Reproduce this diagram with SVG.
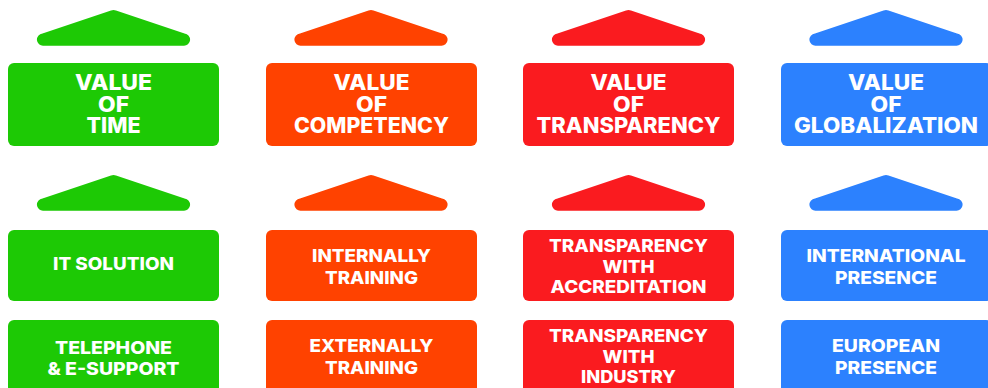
<svg xmlns="http://www.w3.org/2000/svg" width="988" height="388" viewBox="0 0 988 388">
<defs>
<style>
.t{font-family:Inter,"Liberation Sans",sans-serif;font-weight:800;fill:#fff;text-anchor:middle}
.h{font-size:21px}
.s{font-size:17.5px}
.g{fill:#1DC905}.o{fill:#FF4200}.r{fill:#FA1B1F}.b{fill:#2C81FE}
</style>
</defs>
<rect width="988" height="388" fill="#fff"/>
<g id="col1" class="g">
<g id="roof1a"><path transform="translate(113.5,0)" d="M-71 33.5 L-2.5 10.4 Q0 9.6 2.5 10.4 L71 33.5 A6 6 0 0 1 70 45.7 L-70 45.7 A6 6 0 0 1 -71 33.5 Z"/></g>
<g id="n-value-time"><rect x="8" y="63" width="211" height="83" rx="6"/>
<text class="t h" x="113.5" y="90" textLength="77" lengthAdjust="spacingAndGlyphs">VALUE</text><text class="t h" x="113.5" y="111.5" textLength="31" lengthAdjust="spacingAndGlyphs">OF</text><text class="t h" x="113.5" y="133" textLength="54" lengthAdjust="spacingAndGlyphs">TIME</text></g>
<g id="roof1b"><path transform="translate(113.5,165)" d="M-71 33.5 L-2.5 10.4 Q0 9.6 2.5 10.4 L71 33.5 A6 6 0 0 1 70 45.7 L-70 45.7 A6 6 0 0 1 -71 33.5 Z"/></g>
<g id="n-it"><rect x="8" y="230" width="211" height="71" rx="6"/>
<text class="t s" x="113.5" y="270" textLength="121" lengthAdjust="spacingAndGlyphs">IT SOLUTION</text></g>
<g id="n-tel"><rect x="8" y="320" width="211" height="80" rx="6"/>
<text class="t s" x="113.5" y="353.5" textLength="117" lengthAdjust="spacingAndGlyphs">TELEPHONE</text><text class="t s" x="113.5" y="374.5" textLength="132" lengthAdjust="spacingAndGlyphs">&amp; E-SUPPORT</text></g>
</g>
<g id="col2" class="o">
<g id="roof2a"><path transform="translate(371,0)" d="M-71 33.5 L-2.5 10.4 Q0 9.6 2.5 10.4 L71 33.5 A6 6 0 0 1 70 45.7 L-70 45.7 A6 6 0 0 1 -71 33.5 Z"/></g>
<g id="n-value-comp"><rect x="266" y="63" width="211" height="83" rx="6"/>
<text class="t h" x="371.5" y="90" textLength="76" lengthAdjust="spacingAndGlyphs">VALUE</text><text class="t h" x="371.5" y="111.5" textLength="31" lengthAdjust="spacingAndGlyphs">OF</text><text class="t h" x="371.5" y="133" textLength="155" lengthAdjust="spacingAndGlyphs">COMPETENCY</text></g>
<g id="roof2b"><path transform="translate(371,165)" d="M-71 33.5 L-2.5 10.4 Q0 9.6 2.5 10.4 L71 33.5 A6 6 0 0 1 70 45.7 L-70 45.7 A6 6 0 0 1 -71 33.5 Z"/></g>
<g id="n-int-train"><rect x="266" y="230" width="211" height="71" rx="6"/>
<text class="t s" x="371.5" y="262" textLength="119" lengthAdjust="spacingAndGlyphs">INTERNALLY</text><text class="t s" x="371.5" y="283.5" textLength="93" lengthAdjust="spacingAndGlyphs">TRAINING</text></g>
<g id="n-ext-train"><rect x="266" y="320" width="211" height="80" rx="6"/>
<text class="t s" x="371.5" y="352" textLength="124" lengthAdjust="spacingAndGlyphs">EXTERNALLY</text><text class="t s" x="371.5" y="373.5" textLength="93" lengthAdjust="spacingAndGlyphs">TRAINING</text></g>
</g>
<g id="col3" class="r">
<g id="roof3a"><path transform="translate(628.5,0)" d="M-71 33.5 L-2.5 10.4 Q0 9.6 2.5 10.4 L71 33.5 A6 6 0 0 1 70 45.7 L-70 45.7 A6 6 0 0 1 -71 33.5 Z"/></g>
<g id="n-value-trans"><rect x="523" y="63" width="211" height="83" rx="6"/>
<text class="t h" x="628.5" y="90" textLength="76" lengthAdjust="spacingAndGlyphs">VALUE</text><text class="t h" x="628.5" y="111.5" textLength="31" lengthAdjust="spacingAndGlyphs">OF</text><text class="t h" x="628.5" y="133" textLength="184" lengthAdjust="spacingAndGlyphs">TRANSPARENCY</text></g>
<g id="roof3b"><path transform="translate(628.5,165)" d="M-71 33.5 L-2.5 10.4 Q0 9.6 2.5 10.4 L71 33.5 A6 6 0 0 1 70 45.7 L-70 45.7 A6 6 0 0 1 -71 33.5 Z"/></g>
<g id="n-trans-acc"><rect x="523" y="230" width="211" height="71" rx="6"/>
<text class="t s" x="628.5" y="251.5" textLength="159" lengthAdjust="spacingAndGlyphs">TRANSPARENCY</text><text class="t s" x="628.5" y="272.5" textLength="52" lengthAdjust="spacingAndGlyphs">WITH</text><text class="t s" x="628.5" y="293" textLength="156" lengthAdjust="spacingAndGlyphs">ACCREDITATION</text></g>
<g id="n-trans-ind"><rect x="523" y="320" width="211" height="80" rx="6"/>
<text class="t s" x="628.5" y="341.5" textLength="159" lengthAdjust="spacingAndGlyphs">TRANSPARENCY</text><text class="t s" x="628.5" y="362.5" textLength="52" lengthAdjust="spacingAndGlyphs">WITH</text><text class="t s" x="628.5" y="383" textLength="95" lengthAdjust="spacingAndGlyphs">INDUSTRY</text></g>
</g>
<g id="col4" class="b">
<g id="roof4a"><path transform="translate(886,0)" d="M-71 33.5 L-2.5 10.4 Q0 9.6 2.5 10.4 L71 33.5 A6 6 0 0 1 70 45.7 L-70 45.7 A6 6 0 0 1 -71 33.5 Z"/></g>
<g id="n-value-glob"><rect x="781" y="63" width="211" height="83" rx="6"/>
<text class="t h" x="886" y="90" textLength="76" lengthAdjust="spacingAndGlyphs">VALUE</text><text class="t h" x="886" y="111.5" textLength="31" lengthAdjust="spacingAndGlyphs">OF</text><text class="t h" x="886" y="133" textLength="184" lengthAdjust="spacingAndGlyphs">GLOBALIZATION</text></g>
<g id="roof4b"><path transform="translate(886,165)" d="M-71 33.5 L-2.5 10.4 Q0 9.6 2.5 10.4 L71 33.5 A6 6 0 0 1 70 45.7 L-70 45.7 A6 6 0 0 1 -71 33.5 Z"/></g>
<g id="n-intl"><rect x="781" y="230" width="211" height="71" rx="6"/>
<text class="t s" x="886" y="262" textLength="159" lengthAdjust="spacingAndGlyphs">INTERNATIONAL</text><text class="t s" x="886" y="283.5" textLength="102" lengthAdjust="spacingAndGlyphs">PRESENCE</text></g>
<g id="n-eu"><rect x="781" y="320" width="211" height="80" rx="6"/>
<text class="t s" x="886" y="352" textLength="108" lengthAdjust="spacingAndGlyphs">EUROPEAN</text><text class="t s" x="886" y="373.5" textLength="102" lengthAdjust="spacingAndGlyphs">PRESENCE</text></g>
</g>
<g id="connectors"/>
</svg>
